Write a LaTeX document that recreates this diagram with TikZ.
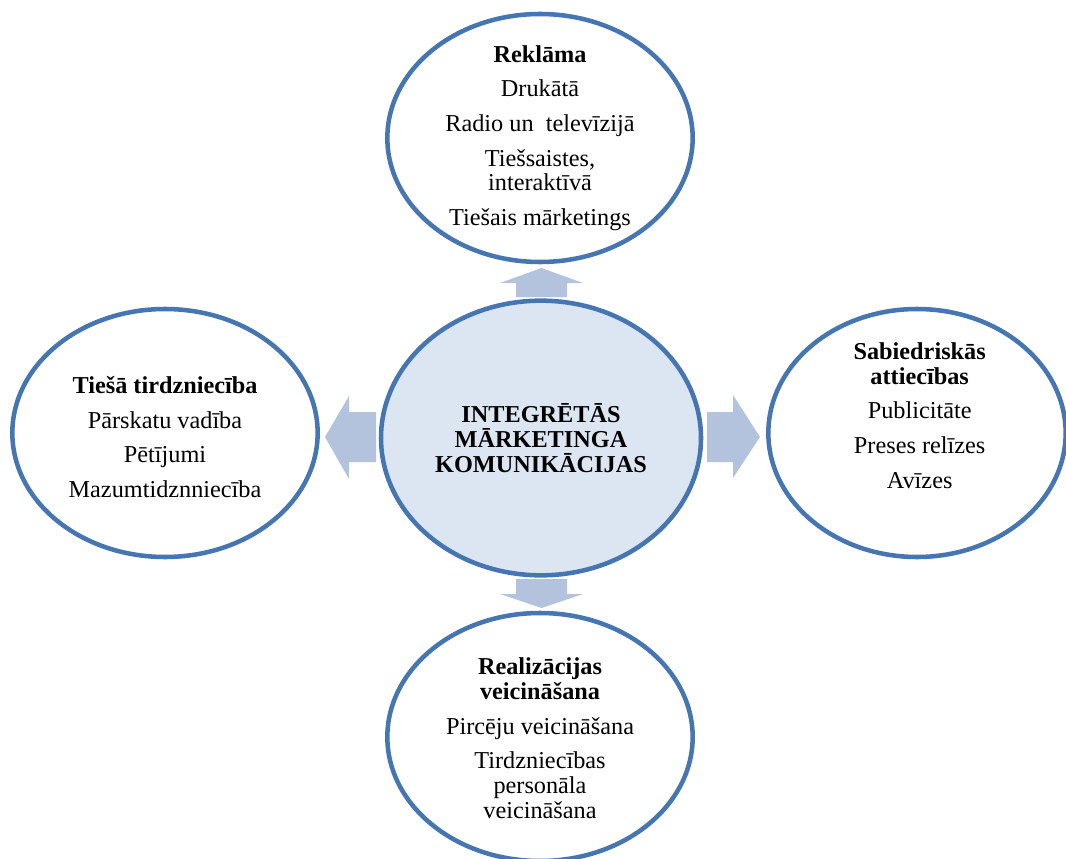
\documentclass[tikz,border=0pt]{standalone}
\usepackage{fontspec}
\setmainfont{Liberation Serif}
\usetikzlibrary{shapes.geometric}
\definecolor{rim}{RGB}{70,118,178}
\definecolor{core}{RGB}{220,230,242}
\definecolor{pale}{RGB}{179,195,222}
\begin{document}
\begin{tikzpicture}[x = 0.75pt, y = -0.75pt,
    oval/.style = {ellipse, draw = rim, line width = 3.4pt, inner sep = 0pt},
    sideoval/.style = {oval, minimum width = 229pt, minimum height = 186pt},
    label/.style = {align = center, inner sep = 0pt,
                    font = \fontsize{18.2}{18.5}\selectfont},
    fat/.style = {fill = pale}]
      \useasboundingbox (0,0) rectangle (1066,859);
      \node [oval, fill = core, minimum width = 240pt, minimum height = 206pt]
        (imk) at (541,438) {};
      \node [sideoval, fill = white] (reklama) at (540,138) {};
      \node [sideoval, fill = white] (tiesa) at (165,433) {};
      \node [sideoval, fill = white, minimum width = 223pt] (sabiedr) at (917,433) {};
      \node [sideoval, fill = white] (realiz) at (540,737) {};
      \fill [fat] (516,297) -- (516,283) -- (500,283) -- (541.5,268)
        -- (583,283) -- (567,283) -- (567,297) -- cycle;
      \fill [fat] (376,412) -- (349,412) -- (349,396) -- (325,437)
        -- (349,479) -- (349,462) -- (376,462) -- cycle;
      \fill [fat] (707,412) -- (733,412) -- (733,395) -- (760,437)
        -- (733,478) -- (733,462) -- (707,462) -- cycle;
      \fill [fat] (516,579) -- (516,594) -- (500,594) -- (541.5,608)
        -- (583,594) -- (567,594) -- (567,579) -- cycle;
      \node [label, font = \fontsize{18.2}{18.5}\selectfont\bfseries]
        (imktxt) at (imk.center) {INTEGRĒTĀS\\MĀRKETINGA\\KOMUNIKĀCIJAS};
      \node [label] (reklamatxt) at (reklama.center)
        {\textbf{Reklāma}\\[7.5pt] Drukātā\\[7.5pt] Radio un\ \ televīzijā\\[7.5pt]
         Tiešsaistes,\\interaktīvā\\[7.5pt] Tiešais mārketings};
      \node [label] (tiesatxt) at ([yshift = -3pt]tiesa.center)
        {\textbf{Tiešā tirdzniecība}\\[7.5pt] Pārskatu vadība\\[7.5pt] Pētījumi\\[7.5pt]
         Mazumtidznniecība};
      \node [label] (sabiedrtxt) at ([xshift = 2pt, yshift = 13pt]sabiedr.center)
        {\textbf{Sabiedriskās}\\\textbf{attiecības}\\[7.5pt] Publicitāte\\[7.5pt]
         Preses relīzes\\[7.5pt] Avīzes};
      \node [label] (realiztxt) at ([yshift = -1pt]realiz.center)
        {\textbf{Realizācijas}\\\textbf{veicināšana}\\[7.5pt] Pircēju veicināšana\\[7.5pt]
         Tirdzniecības\\personāla\\veicināšana};
    \end{tikzpicture}
\end{document}
